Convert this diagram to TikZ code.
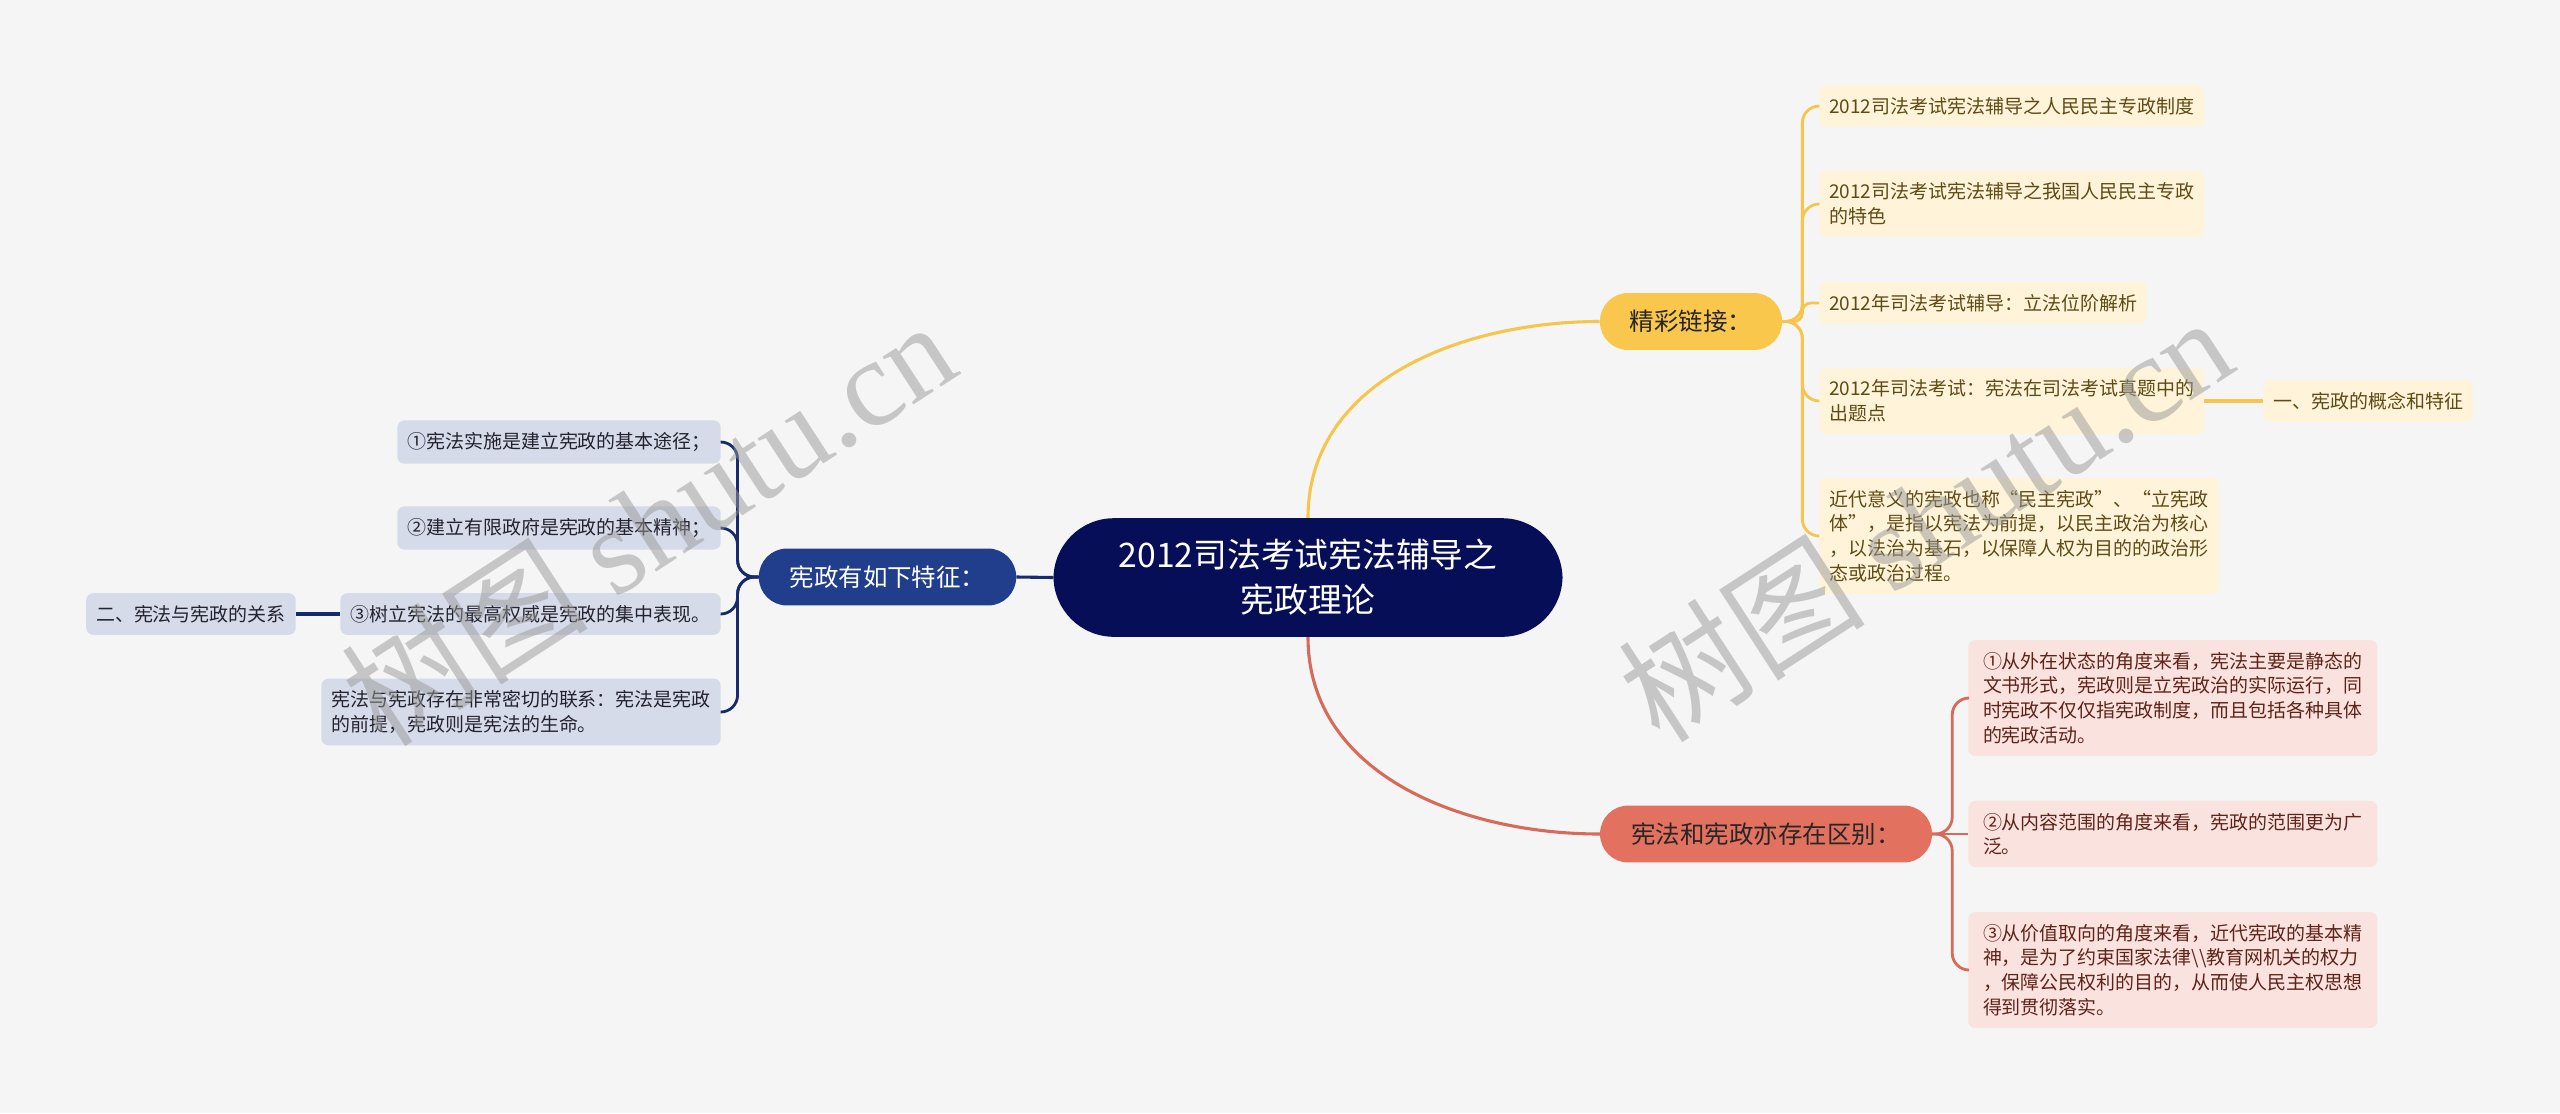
\documentclass[tikz,border=0pt]{standalone}
\usepackage{fontspec}
\setmainfont{Noto Sans CJK SC}
\newfontfamily\wmlatin{Liberation Serif}
\usetikzlibrary{positioning}
\definecolor{bgc}{RGB}{245,245,245}
\definecolor{rootc}{RGB}{7,14,88}
\definecolor{ymain}{RGB}{250,199,77}
\definecolor{yfill}{RGB}{255,243,217}
\definecolor{ytext}{RGB}{95,75,20}
\definecolor{yline}{RGB}{246,197,78}
\definecolor{rmain}{RGB}{226,113,95}
\definecolor{rfill}{RGB}{250,227,222}
\definecolor{rtext}{RGB}{95,35,25}
\definecolor{rline}{RGB}{214,107,90}
\definecolor{bmain}{RGB}{32,62,140}
\definecolor{bfill}{RGB}{214,219,234}
\definecolor{btext}{RGB}{35,35,45}
\definecolor{bline}{RGB}{22,42,110}
\tikzset{leaf/.style={rounded corners=5pt,inner xsep=7pt,inner ysep=8.5pt,align=left,font=\fontsize{13.5}{17.6}\selectfont}}
\tikzset{yleaf/.style={leaf,fill=yfill,text=ytext}}
\tikzset{rleaf/.style={leaf,fill=rfill,text=rtext}}
\tikzset{bleaf/.style={leaf,fill=bfill,text=btext}}
\tikzset{branch/.style={rounded corners=20pt,minimum height=40.5pt,inner sep=0pt,font=\fontsize{17.4}{20}\selectfont}}
\tikzset{link/.style={line width=2pt,rounded corners=12pt}}
\tikzset{trunk/.style={line width=2.2pt}}
\tikzset{wm/.style={rotate=33,text=gray!80,opacity=0.5,font=\fontsize{88}{96}\selectfont}}

\begin{document}
\begin{tikzpicture}[x=0.025cm,y=-0.025cm]
    \fill[bgc] (0,0) rectangle (2560,1113);
    \node[fill=rootc,text=white,rounded corners=43pt,minimum width=362pt,inner ysep=15pt,align=center,font=\fontsize{24}{32}\selectfont] (root) at (1308,577.5) {2012司法考试宪法辅导之\\宪政理论};
    \node[branch,fill=ymain,text=black!85,minimum width=129.5pt] (jc) at (1691,321.5) {精彩链接：};
    \node[branch,fill=rmain,text=black!85,minimum width=236pt] (rb) at (1766,834) {宪法和宪政亦存在区别：};
    \node[branch,fill=bmain,text=white,minimum width=183pt] (bb) at (887.5,577) {宪政有如下特征：};
    \node[yleaf,anchor=west] (y1) at (1819,106) {2012司法考试宪法辅导之人民民主专政制度};
    \node[yleaf,anchor=west] (y2) at (1819,204) {2012司法考试宪法辅导之我国人民民主专政\\的特色};
    \node[yleaf,anchor=west] (y3) at (1819,303) {2012年司法考试辅导：立法位阶解析};
    \node[yleaf,anchor=west] (y4) at (1819,401) {2012年司法考试：宪法在司法考试真题中的\\出题点};
    \node[yleaf,anchor=west] (y5) at (1819,536) {近代意义的宪政也称“民主宪政”、“立宪政\\体”，是指以宪法为前提，以民主政治为核心\\，以法治为基石，以保障人权为目的的政治形\\态或政治过程。};
    \node[yleaf,anchor=west] (y6) at (2263,401) {一、宪政的概念和特征};
    \node[rleaf,anchor=west,minimum width=409pt*0.7113] (r1) at (1968,698) {①从外在状态的角度来看，宪法主要是静态的\\文书形式，宪政则是立宪政治的实际运行，同\\时宪政不仅仅指宪政制度，而且包括各种具体\\的宪政活动。};
    \node[rleaf,anchor=west,minimum width=409pt*0.7113] (r2) at (1968,834) {②从内容范围的角度来看，宪政的范围更为广\\泛。};
    \node[rleaf,anchor=west,minimum width=409pt*0.7113] (r3) at (1968,970) {③从价值取向的角度来看，近代宪政的基本精\\神，是为了约束国家法律\textbackslash\textbackslash 教育网机关的权力\\，保障公民权利的目的，从而使人民主权思想\\得到贯彻落实。};
    \node[bleaf,anchor=east] (b1) at (721,442) {①宪法实施是建立宪政的基本途径；};
    \node[bleaf,anchor=east] (b2) at (721,528) {②建立有限政府是宪政的基本精神；};
    \node[bleaf,anchor=east] (b3) at (721,614) {③树立宪法的最高权威是宪政的集中表现。};
    \node[bleaf,anchor=east] (b4) at (721,712) {宪法与宪政存在非常密切的联系：宪法是宪政\\的前提，宪政则是宪法的生命。};
    \node[bleaf,anchor=east] (b5) at (296,614) {二、宪法与宪政的关系};
    \draw[trunk,yline] (root.north) to[out=90,in=180] (jc.west);
    \draw[trunk,rline] (root.south) to[out=-90,in=180] (rb.west);
    \draw[trunk,bline] (root.west) -- (bb.east);
    \draw[link,yline] (jc.east) -- ++(20,0) |- (y1.west);
    \draw[link,yline] (jc.east) -- ++(20,0) |- (y2.west);
    \draw[link,yline,rounded corners=6pt] (jc.east) -- ++(20,0) |- (y3.west);
    \draw[link,yline] (jc.east) -- ++(20,0) |- (y4.west);
    \draw[link,yline] (jc.east) -- ++(20,0) |- (y5.west);
    \draw[trunk,yline] (y4.east) -- (y6.west);
    \draw[link,rline] (rb.east) -- ++(20,0) |- (r1.west);
    \draw[link,rline] (rb.east) -- (r2.west);
    \draw[link,rline] (rb.east) -- ++(20,0) |- (r3.west);
    \draw[link,bline] (bb.west) -- ++(-21,0) |- (b1.east);
    \draw[link,bline] (bb.west) -- ++(-21,0) |- (b2.east);
    \draw[link,bline] (bb.west) -- ++(-21,0) |- (b3.east);
    \draw[link,bline] (bb.west) -- ++(-21,0) |- (b4.east);
    \draw[trunk,bline] (b3.west) -- (b5.east);
    \node[wm] (wm1) at (648,522) {树图 {\wmlatin shutu.cn}};
    \node[wm] (wm2) at (1925,518) {树图 {\wmlatin shutu.cn}};
\end{tikzpicture}
\end{document}
